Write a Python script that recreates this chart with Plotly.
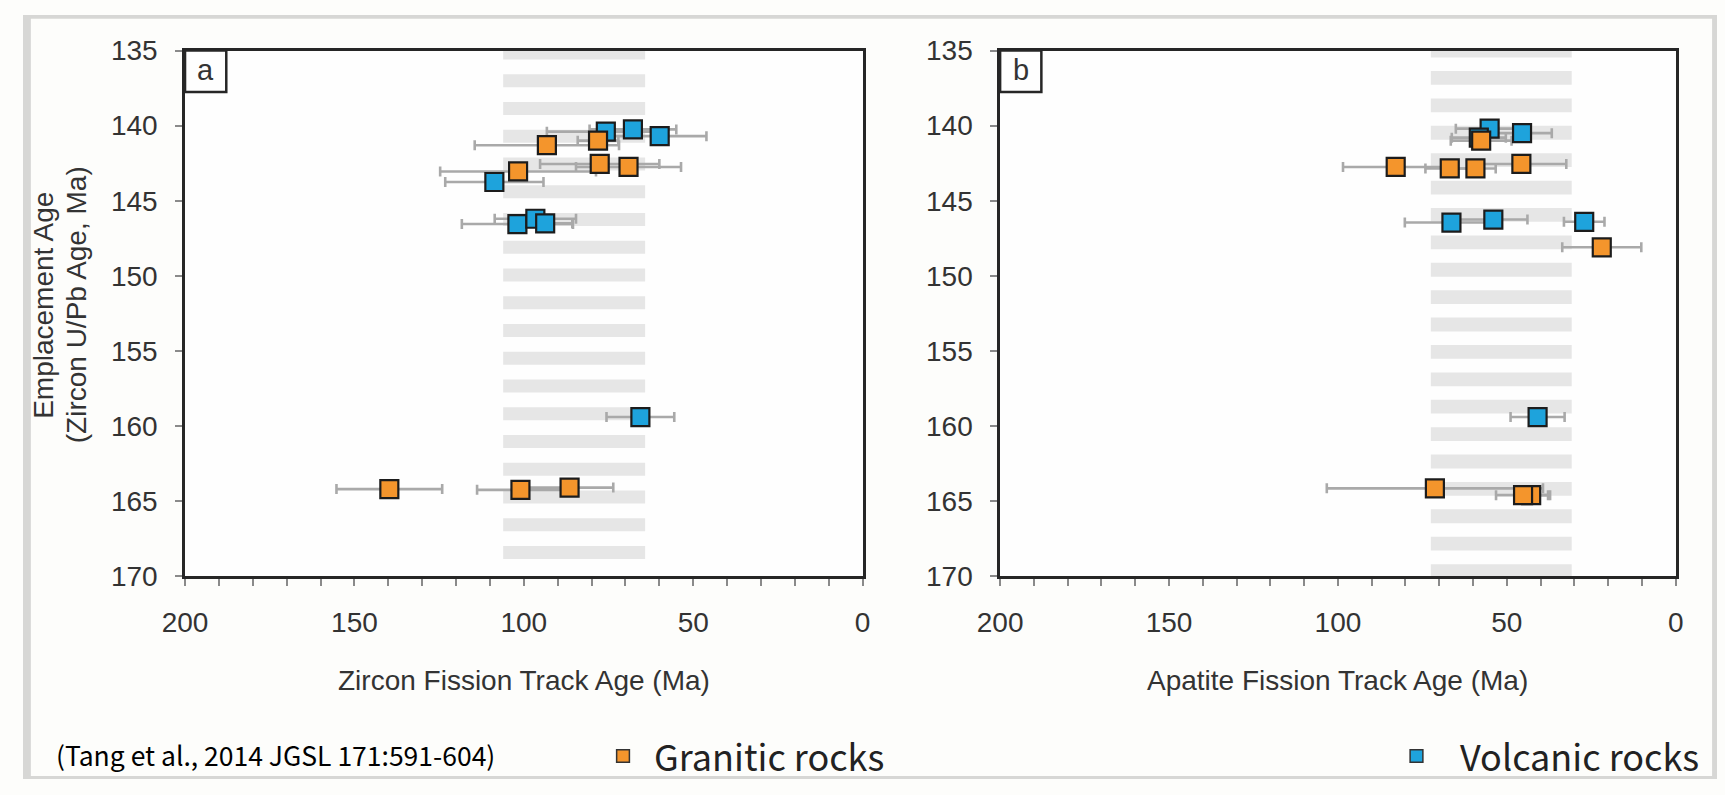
import plotly.graph_objects as go

W, H = 1725, 795

# ---------------- data ----------------
# Panel a: Zircon fission track age (Ma) vs emplacement age (Ma)
zft_gran_age = [93.2, 78.1, 77.6, 69.1, 101.7, 139.7, 101.0, 86.5]
zft_gran_err = [21.3, 6.0, 17.6, 15.5, 23.0, 15.6, 12.8, 12.9]
zft_gran_emp = [141.3, 141.0, 142.55, 142.75, 143.05, 164.2, 164.25, 164.1]

zft_volc_age = [75.8, 67.8, 59.9, 108.7, 101.9, 96.6, 93.7, 65.6]
zft_volc_err = [17.4, 12.8, 13.8, 14.5, 16.4, 12.0, 8.0, 10.0]
zft_volc_emp = [140.4, 140.25, 140.7, 143.75, 146.55, 146.2, 146.5, 159.4]

# Panel b: Apatite fission track age (Ma) vs emplacement age (Ma)
aft_gran_age = [57.6, 82.9, 66.9, 59.3, 45.7, 21.9, 71.3, 42.8, 45.2]
aft_gran_err = [9.0, 15.6, 7.2, 6.0, 13.3, 11.7, 32.0, 5.0, 8.0]
aft_gran_emp = [141.0, 142.75, 142.85, 142.85, 142.55, 148.1, 164.15, 164.6, 164.6]

aft_volc_age = [55.1, 45.5, 58.3, 66.4, 54.0, 27.1, 40.9]
aft_volc_err = [10.0, 8.8, 8.0, 13.8, 10.1, 6.0, 8.0]
aft_volc_emp = [140.2, 140.5, 140.8, 146.45, 146.25, 146.4, 159.4]

# shaded (striped) age bands
band_a = [64.2, 106.1]
band_b = [30.8, 72.5]

x_ticks = [200, 150, 100, 50, 0]
y_ticks = [135, 140, 145, 150, 155, 160, 165, 170]

x_title_a = "Zircon Fission Track Age (Ma)"
x_title_b = "Apatite Fission Track Age (Ma)"
y_title_lines = ["Emplacement Age", "(Zircon U/Pb Age, Ma)"]
citation = "(Tang et al., 2014 JGSL 171:591-604)"
legend_names = ["Granitic rocks", "Volcanic rocks"]

# ---------------- style ----------------
ORANGE = "#f4952c"
BLUE = "#1ea3dc"
EDGE = "#1c1c1c"
ERRC = "#a9a9a9"
STRIPE = "#e6e6e6"
FRAME = "#262626"
TXT = "#333333"
FONT = "Liberation Sans, Arial, sans-serif"
CITE_FONT = "Noto Sans CJK SC, Lato, sans-serif"
LEG_FONT = "Noto Sans CJK SC, Lato, sans-serif"
EDGE_BG = "#d7d7d5"

stripes_a = dict(start=134.73, period=1.848, height=0.86, count=19)
stripes_b = dict(start=134.54, period=1.824, height=0.92, count=20)

# pixel layout
A_X = (165, 855)
B_X = (995, 1683)
P_Y = (37, 584)


def px(v):
    return v / W


def py(v):
    return 1 - v / H


fig = go.Figure()


def add_panel(xa, ya, g_age, g_err, g_emp, v_age, v_err, v_emp):
    for age, err, emp in ((v_age, v_err, v_emp), (g_age, g_err, g_emp)):
        fig.add_trace(go.Scatter(
            x=age, y=emp, mode="markers", xaxis=xa, yaxis=ya,
            marker=dict(size=1, color="rgba(0,0,0,0)"),
            error_x=dict(type="data", array=err, color=ERRC, thickness=2.6, width=5),
            showlegend=False, hoverinfo="skip"))
    fig.add_trace(go.Scatter(
        x=v_age, y=v_emp, mode="markers", xaxis=xa, yaxis=ya, name=legend_names[1],
        marker=dict(symbol="square", size=18, color=BLUE, line=dict(color=EDGE, width=2.2)),
        showlegend=False))
    fig.add_trace(go.Scatter(
        x=g_age, y=g_emp, mode="markers", xaxis=xa, yaxis=ya, name=legend_names[0],
        marker=dict(symbol="square", size=18, color=ORANGE, line=dict(color=EDGE, width=2.2)),
        showlegend=False))


add_panel("x", "y", zft_gran_age, zft_gran_err, zft_gran_emp, zft_volc_age, zft_volc_err, zft_volc_emp)
add_panel("x2", "y2", aft_gran_age, aft_gran_err, aft_gran_emp, aft_volc_age, aft_volc_err, aft_volc_emp)

shapes = []
for xr, yr, band, st in (("x", "y", band_a, stripes_a), ("x2", "y2", band_b, stripes_b)):
    for k in range(st["count"]):
        y0 = st["start"] + k * st["period"]
        y1 = y0 + st["height"]
        y0c, y1c = max(y0, 135), min(y1, 170)
        if y1c <= y0c:
            continue
        shapes.append(dict(type="rect", xref=xr, yref=yr, x0=band[0], x1=band[1], y0=y0c, y1=y1c,
                           fillcolor=STRIPE, line=dict(width=0), layer="below"))

# grey slide edge around the figure
for x0, x1, y0, y1 in ((0, 8, 0, H), (0, W, 0, 4), (W - 5, W, 0, H), (0, W, H - 3, H)):
    shapes.append(dict(type="rect", xref="paper", yref="paper", x0=px(x0), x1=px(x1),
                       y0=py(y1), y1=py(y0), fillcolor=EDGE_BG, line=dict(width=0), layer="below"))

annotations = []


def ann(text, x, y, size, family=FONT, color=TXT, xanchor="center", yanchor="middle", **kw):
    d = dict(text=text, xref="paper", yref="paper", x=x, y=y, showarrow=False,
             xanchor=xanchor, yanchor=yanchor, font=dict(family=family, size=size, color=color))
    d.update(kw)
    annotations.append(d)


# panel letter boxes
for xw, letter in ((A_X, "a"), (B_X, "b")):
    shapes.append(dict(type="rect", xref="paper", yref="paper",
                       x0=px(xw[0]), x1=px(xw[0] + 42), y0=py(P_Y[0] + 43), y1=py(P_Y[0]),
                       line=dict(color=FRAME, width=2.5), fillcolor="rgba(0,0,0,0)"))
    ann(letter, px(xw[0] + 21), py(P_Y[0] + 20), 29)

# axis titles
ann(x_title_a, px(sum(A_X) / 2), py(693), 28)
ann(x_title_b, px(sum(B_X) / 2), py(693), 28)
for line, cx in zip(y_title_lines, (21, 54)):
    ann(line, px(cx), py(302), 28, textangle=-90)

# citation
ann(citation, px(32), py(769), 26.5, family=CITE_FONT, color="#000", xanchor="left")

# manual legend
for name, col, sx, tx in ((legend_names[0], ORANGE, 611, 641), (legend_names[1], BLUE, 1419, 1461)):
    shapes.append(dict(type="rect", xref="paper", yref="paper",
                       x0=px(sx - 6.5), x1=px(sx + 6.5), y0=py(777.5), y1=py(764.5),
                       fillcolor=col, line=dict(color="#333", width=1.5)))
    ann(name, px(tx), py(770), 36, family=LEG_FONT, color="#222", xanchor="left")

axis_common = dict(showline=True, linewidth=2.5, linecolor=FRAME, mirror=True,
                   ticks="outside", ticklen=7, tickwidth=2, tickcolor="#8a8a8a",
                   tickfont=dict(family=FONT, size=28, color=TXT),
                   showgrid=False, zeroline=False)
xcommon = dict(axis_common, range=[200, 0], tickvals=x_ticks, ticklabelstandoff=12,
               minor=dict(dtick=10, tick0=0, ticks="outside", ticklen=7, tickwidth=2, tickcolor="#8a8a8a"))
ycommon = dict(axis_common, range=[170, 135], tickvals=y_ticks, ticklabelstandoff=12)

fig.update_layout(
    width=W, height=H, margin=dict(l=0, r=0, t=0, b=0),
    paper_bgcolor="#fdfdfb", plot_bgcolor="#fefefe",
    xaxis=dict(xcommon, domain=[px(A_X[0]), px(A_X[1])], anchor="y"),
    yaxis=dict(ycommon, domain=[py(P_Y[1]), py(P_Y[0])], anchor="x"),
    xaxis2=dict(xcommon, domain=[px(B_X[0]), px(B_X[1])], anchor="y2"),
    yaxis2=dict(ycommon, domain=[py(P_Y[1]), py(P_Y[0])], anchor="x2"),
    shapes=shapes, annotations=annotations,
)

fig.write_html("out.html")
